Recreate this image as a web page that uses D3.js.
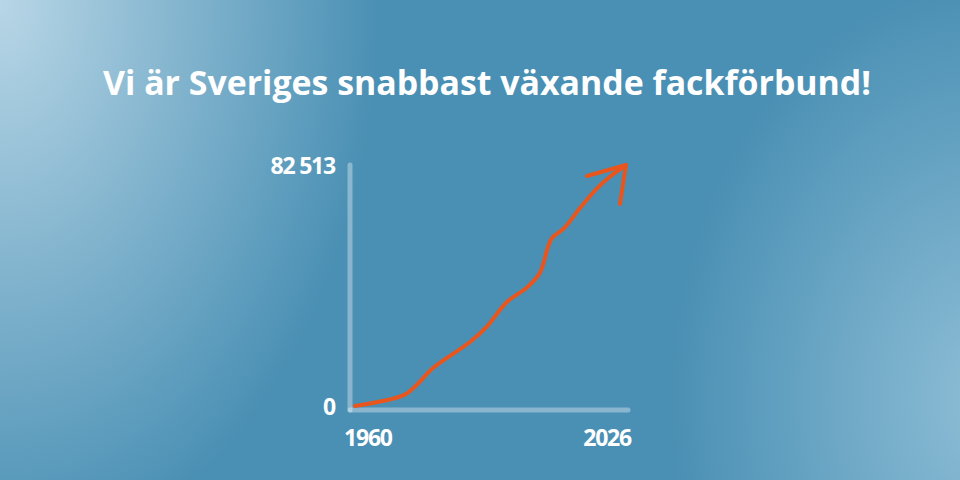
<!DOCTYPE html>
<meta charset="utf-8">
<style>
html, body { margin: 0; padding: 0; }
body {
  width: 960px; height: 480px; overflow: hidden;
  background:
    radial-gradient(ellipse 380px 560px at 0px 0px, rgba(190,218,233,0.95), rgba(190,218,233,0) 100%),
    radial-gradient(ellipse 320px 420px at 990px 400px, rgba(150,195,218,0.9), rgba(150,195,218,0) 100%),
    #4a90b4;
}
svg { display: block; }
</style>
<div id="chart"></div>
<script src="https://cdn.jsdelivr.net/npm/d3@7"></script>
<script>

var width = 960, height = 480;

var title = "Vi är Sveriges snabbast växande fackförbund!";

// members over the years
var years   = [1960, 1972, 1975, 1979, 1988, 1992, 1997, 2002, 2005, 2007, 2008, 2011, 2015, 2019, 2022, 2026];
var members = [0, 3800, 7200, 13000, 21900, 27000, 35600, 40700, 45500, 54400, 57500, 61000, 68100, 74600, 78400, 82513];

var xTicks = [1960, 2026];
var yTicks = [0, 82513];

var svg = d3.select('#chart').append('svg')
    .attr('width', width)
    .attr('height', height);

svg.append('text')
    .attr('x', 487)
    .attr('y', 95)
    .attr('text-anchor', 'middle')
    .attr('fill', '#fff')
    .attr('font-family', 'Open Sans')
    .attr('font-weight', 700)
    .attr('font-size', 34)
    .attr('textLength', 768)
    .attr('lengthAdjust', 'spacingAndGlyphs')
    .text(title);

var x = d3.scaleLinear().domain([1960, 2026]).range([355, 626]);
var y = d3.scaleLinear().domain([0, 82513]).range([406, 165]);

// axis bars
svg.append('line')
    .attr('x1', 350).attr('x2', 350)
    .attr('y1', y(82513)).attr('y2', 410)
    .attr('stroke', 'rgba(255,255,255,0.35)')
    .attr('stroke-width', 5)
    .attr('stroke-linecap', 'round');
svg.append('line')
    .attr('x1', 350).attr('x2', 628)
    .attr('y1', 410).attr('y2', 410)
    .attr('stroke', 'rgba(255,255,255,0.35)')
    .attr('stroke-width', 5)
    .attr('stroke-linecap', 'round');

var fmt = function(d) { return d3.format(',')(d).replace(/,/g, ' '); };

svg.selectAll('.ylab').data(yTicks).enter().append('text')
    .attr('class', 'ylab')
    .attr('x', 335)
    .attr('y', function(d) { return y(d) + 9; })
    .attr('text-anchor', 'end')
    .attr('fill', '#fff')
    .attr('font-family', 'Open Sans')
    .attr('font-weight', 700)
    .attr('font-size', 23)
    .attr('letter-spacing', -1.2)
    .text(fmt);

svg.selectAll('.xlab').data(xTicks).enter().append('text')
    .attr('class', 'xlab')
    .attr('x', function(d, i) { return i == 0 ? 344 : 631; })
    .attr('y', 446)
    .attr('text-anchor', function(d, i) { return i == 0 ? 'start' : 'end'; })
    .attr('fill', '#fff')
    .attr('font-family', 'Open Sans')
    .attr('font-weight', 700)
    .attr('font-size', 23)
    .attr('letter-spacing', -1.2)
    .text(function(d) { return d; });

var line = d3.line()
    .x(function(d, i) { return x(years[i]); })
    .y(function(d) { return y(d); })
    .curve(d3.curveCatmullRom);

var orange = '#e8561e';

svg.append('path')
    .datum(members)
    .attr('d', line)
    .attr('fill', 'none')
    .attr('stroke', orange)
    .attr('stroke-width', 4)
    .attr('stroke-linecap', 'round')
    .attr('stroke-linejoin', 'round');

// arrow head at the last point
var tipX = x(years[years.length - 1]), tipY = y(members[members.length - 1]);
svg.append('path')
    .attr('d', 'M' + (tipX - 39) + ',' + (tipY + 11) + 'L' + tipX + ',' + tipY + 'L' + (tipX - 6) + ',' + (tipY + 39))
    .attr('fill', 'none')
    .attr('stroke', orange)
    .attr('stroke-width', 4)
    .attr('stroke-linecap', 'round')
    .attr('stroke-linejoin', 'round');

</script>
